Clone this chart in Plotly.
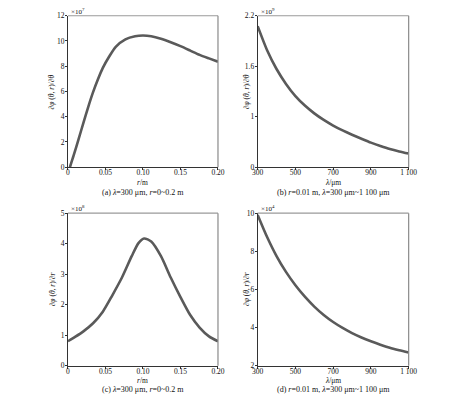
import plotly.graph_objects as go

# ---- data ----
r_a = [0.0026, 0.0077, 0.0142, 0.0206, 0.0271, 0.0335, 0.040, 0.0465, 0.055, 0.0637, 0.0766, 0.0895, 0.10, 0.111, 0.124, 0.137, 0.150, 0.163, 0.1755, 0.188, 0.20]
y_a = [0.0, 0.95, 2.23, 3.51, 4.79, 5.95, 6.97, 7.87, 8.77, 9.54, 10.13, 10.38, 10.44, 10.38, 10.18, 9.9, 9.59, 9.24, 8.9, 8.62, 8.36]

lam_b = [300, 350, 400, 450, 500, 550, 600, 650, 700, 750, 800, 850, 900, 950, 1000, 1050, 1100]
y_b = [2.076, 1.79, 1.567, 1.39, 1.245, 1.133, 1.04, 0.962, 0.895, 0.837, 0.786, 0.738, 0.692, 0.652, 0.616, 0.587, 0.562]

r_c = [0.0, 0.01, 0.0206, 0.0335, 0.0465, 0.059, 0.072, 0.085, 0.094, 0.1015, 0.111, 0.124, 0.137, 0.150, 0.163, 0.1755, 0.188, 0.20]
y_c = [0.80, 0.95, 1.125, 1.39, 1.77, 2.30, 2.89, 3.59, 4.02, 4.17, 4.07, 3.59, 2.89, 2.25, 1.66, 1.25, 0.96, 0.80]

lam_d = [300, 350, 400, 450, 500, 550, 600, 650, 700, 750, 800, 850, 900, 950, 1000, 1050, 1100]
y_d = [9.91, 8.75, 7.75, 6.92, 6.22, 5.62, 5.1, 4.66, 4.29, 3.98, 3.71, 3.48, 3.28, 3.1, 2.94, 2.81, 2.69]

r_ticks = [0, 0.05, 0.10, 0.15, 0.20]
r_ticktext = ["0", "0.05", "0.10", "0.15", "0.20"]
lam_ticks = [300, 500, 700, 900, 1100]
lam_ticktext = ["300", "500", "700", "900", "1 100"]
a_yticks = [0, 2, 4, 6, 8, 10, 12]
b_yticks = [0.4, 1.0, 1.6, 2.2]
b_yticktext = ["0", "1", "1.6", "2.2"]
c_yticks = [0, 1, 2, 3, 4, 5]
d_yticks = [2, 4, 6, 8, 10]

exponents = ["×10<sup>7</sup>", "×10<sup>9</sup>", "×10<sup>8</sup>", "×10<sup>4</sup>"]
xtitles = ["<i>r</i>/m", "<i>λ</i>/μm", "<i>r</i>/m", "<i>λ</i>/μm"]
ytitles = ["∂<i>φ</i> (<i>θ</i>, <i>r</i>)/∂<i>θ</i>", "∂<i>φ</i> (<i>θ</i>, <i>r</i>)/∂<i>θ</i>",
           "∂<i>φ</i> (<i>θ</i>, <i>r</i>)/∂<i>r</i>", "∂<i>φ</i> (<i>θ</i>, <i>r</i>)/∂<i>r</i>"]
captions = ["(a) <i>λ</i>=300 μm, <i>r</i>=0~0.2 m",
            "(b) <i>r</i>=0.01 m, <i>λ</i>=300 μm~1 100 μm",
            "(c) <i>λ</i>=300 μm, <i>r</i>=0~0.2 m",
            "(d) <i>r</i>=0.01 m, <i>λ</i>=300 μm~1 100 μm"]

W, H = 468, 399
FONT = "Liberation Serif"
LINE = "#5a5a5a"
TXT = "#111"

fig = go.Figure()
series = [(r_a, y_a), (lam_b, y_b), (r_c, y_c), (lam_d, y_d)]
for i, (xs, ys) in enumerate(series):
    sfx = "" if i == 0 else str(i + 1)
    fig.add_trace(go.Scatter(x=xs, y=ys, mode="lines", line=dict(color=LINE, width=2.6, shape="spline", smoothing=0.7),
                             xaxis="x" + sfx, yaxis="y" + sfx, showlegend=False, hoverinfo="skip"))

# plot area pixel boxes (left, right, top, bottom)
boxes = [(64, 219, 12, 167), (260, 416, 12, 167), (64, 219, 214, 370), (260, 416, 214, 370)]
xranges = [[0, 0.2], [300, 1100], [0, 0.2], [300, 1100]]
yranges = [[0, 12], [0.4, 2.2], [0, 5], [2, 10]]
xtv = [(r_ticks, r_ticktext), (lam_ticks, lam_ticktext), (r_ticks, r_ticktext), (lam_ticks, lam_ticktext)]
ytv = [(a_yticks, [str(v) for v in a_yticks]), (b_yticks, b_yticktext),
       (c_yticks, [str(v) for v in c_yticks]), (d_yticks, [str(v) for v in d_yticks])]

layout = dict(width=W, height=H, margin=dict(l=0, r=0, t=0, b=0), paper_bgcolor="white", plot_bgcolor="white",
              font=dict(family=FONT, size=8, color=TXT), showlegend=False)
annotations = []
shapes = []
for i, (l, r, t, b) in enumerate(boxes):
    sfx = "" if i == 0 else str(i + 1)
    xd = [l / W, r / W]
    yd = [1 - b / H, 1 - t / H]
    layout["xaxis" + sfx] = dict(domain=xd, range=xranges[i], anchor="y" + sfx, showgrid=False, zeroline=False,
                                 showline=True, linecolor="#333", linewidth=1, ticks="outside", ticklen=2,
                                 tickcolor="#333", tickvals=xtv[i][0], ticktext=xtv[i][1], ticklabelstandoff=-4,
                                 tickfont=dict(family=FONT, size=7.5, color=TXT), fixedrange=True)
    layout["yaxis" + sfx] = dict(domain=yd, range=yranges[i], anchor="x" + sfx, showgrid=False, zeroline=False,
                                 showline=True, linecolor="#333", linewidth=1, ticks="outside", ticklen=2,
                                 tickcolor="#333", tickvals=ytv[i][0], ticktext=ytv[i][1], ticklabelstandoff=-1,
                                 tickfont=dict(family=FONT, size=7.5, color=TXT), fixedrange=True)
    xdr = "x" + sfx + " domain"
    ydr = "y" + sfx + " domain"
    # top and right frame lines (lighter)
    shapes.append(dict(type="line", xref=xdr, yref=ydr, x0=0, x1=1, y0=1, y1=1, line=dict(color="#9a9a9a", width=1.2)))
    shapes.append(dict(type="line", xref=xdr, yref=ydr, x0=1, x1=1, y0=0, y1=1, line=dict(color="#8a8a8a", width=1.2)))
    top_row = i < 2
    annotations.append(dict(text=exponents[i], xref=xdr, yref=ydr, x=0, y=1, xanchor="left", yanchor="bottom",
                            xshift=1, yshift=-2, showarrow=False, font=dict(family=FONT, size=7, color=TXT)))
    annotations.append(dict(text=xtitles[i], xref=xdr, yref=ydr, x=0.5, y=0, xanchor="center", yanchor="middle",
                            yshift=-15.5 if top_row else -14.5, showarrow=False, font=dict(family=FONT, size=7.5, color=TXT)))
    annotations.append(dict(text=captions[i], xref=xdr, yref=ydr, x=0.5, y=0, xanchor="center", yanchor="middle",
                            yshift=-25.5 if top_row else -24, showarrow=False, font=dict(family=FONT, size=8, color=TXT)))
    annotations.append(dict(text=ytitles[i], xref=xdr, yref=ydr, x=0, y=0.5, xanchor="center", yanchor="middle",
                            xshift=-16 if i % 2 == 0 else -11, textangle=-90, showarrow=False,
                            font=dict(family=FONT, size=7.5, color=TXT)))

layout["annotations"] = annotations
layout["shapes"] = shapes
fig.update_layout(**layout)
fig.write_html("out.html", config={"displayModeBar": False, "staticPlot": True})

# remove the browser's default page margin so the figure sits at the window's corner
with open("out.html", "r", encoding="utf-8") as f:
    html = f.read()
html = html.replace("<head>", "<head><style>html,body{margin:0;padding:0;overflow:hidden;}</style>", 1)
with open("out.html", "w", encoding="utf-8") as f:
    f.write(html)
